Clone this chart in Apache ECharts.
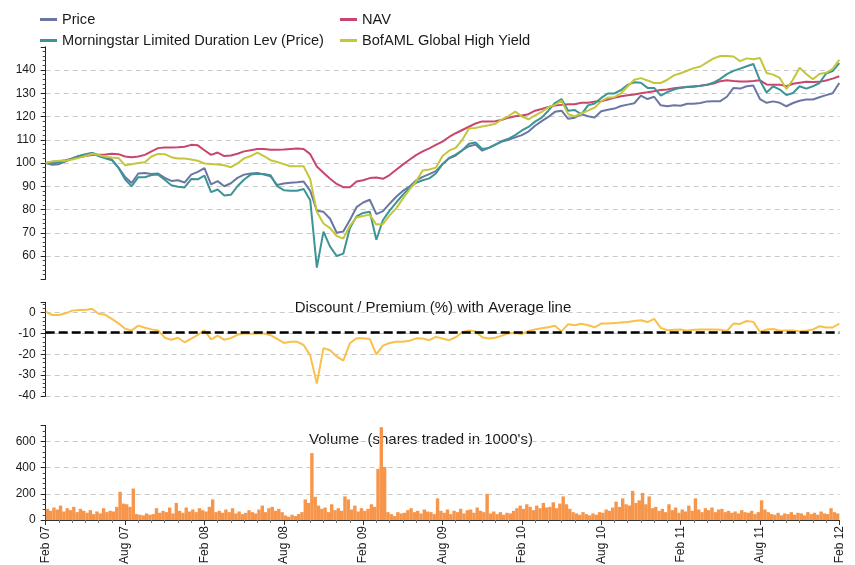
<!DOCTYPE html>
<html>
<head>
<meta charset="utf-8">
<title>Fund performance</title>
<script src="https://cdn.jsdelivr.net/npm/echarts@6/dist/echarts.min.js"></script>
<style>
  html, body { margin: 0; padding: 0; background: #fff; }
  #chart { width: 855px; height: 565px; }
</style>
</head>
<body>
<div id="chart"></div>
<script>
// Semi-monthly observations from Feb 2007 to Feb 2012 (index / 2 = months since Feb 2007), rebased to 100
const price = [
  100, 99.2, 99.5, 100.7, 102, 102.9, 103.5, 104.3, 103.5, 102.5,
  101.5, 98, 94, 91.4, 95.5, 95.7, 95.3, 95.5, 93.6, 92.3,
  92.6, 91.6, 95, 96.2, 97.8, 90.8, 92.2, 90, 91.3, 93.6,
  95, 95.5, 95.7, 95, 94.3, 90.5, 91.2, 91.5, 91.7,
  92, 88, 79.5, 79, 76, 70, 70.5, 75.5, 81, 83,
  84.2, 78, 79.3, 82.5, 85.5, 88, 89.8, 92.5, 94, 95.2,
  96.5, 99.5, 102, 103.2, 105.5, 107.2, 107.9, 105.3, 106.5, 107.9,
  109.2, 110, 111, 112, 113.5, 116, 118, 119.8, 122, 122.5,
  119, 119.5,
  121, 120.1, 119.6, 122.3, 122.9, 123.4, 124.5, 125.1, 125.7, 129,
  127.5, 128.5, 124.8, 124.4, 124.8, 124.6, 125.5, 125.5, 125.8, 126.5,
  126.6, 126.6, 128.5, 132.3, 132, 133, 133.3, 127.5, 125.9, 126.5,
  125.9, 124.4, 125.8, 126.8, 127.3, 127.3, 128.3, 129.2, 130, 134.4
];
const nav = [
  100, 100.5, 100.8, 101.2, 101.8, 102.5, 103, 103.4, 103.5, 103.7,
  104, 103.8, 102.8, 102.5, 102.8, 103.5, 105, 106.4, 106.7, 106.7,
  106.8, 107, 107.8, 107.6, 105.5, 103.5, 104.5, 103, 103.2, 104,
  105, 105.5, 106, 106, 105.7, 105.7, 105.8, 106, 106.2,
  106, 103.8, 98.5, 95.8, 93.2, 91, 89.6, 89.6, 92, 92.6,
  93.5, 93.8, 93.2, 94.8, 97.1, 99.3, 101.4, 103.4, 105, 106.3,
  107.8, 109.2, 111.2, 112.8, 114.2, 115.6, 117, 117.9, 117.9, 118,
  118.6, 119.5, 120.1, 120.4, 121, 122.5, 123.2, 124.1, 124.7, 125,
  125.3, 125.3,
  125.9, 125.9, 126.4, 126.6, 127.3, 128, 128.7, 129.1, 129.5, 130,
  130.4, 130.9, 131.4, 131.6, 132.2, 132.5, 132.7, 132.8, 133.2, 133.7,
  134.2, 135.2, 135.6, 135.3, 135.1, 135.1, 135.3, 135.6, 133.8, 133.7,
  133.7, 133, 134.1, 134.5, 134.9, 134.8, 134.9, 135.5, 136.3, 137.3
];
const morningstar = [
  100, 99.8, 100.3, 100.7, 102, 103, 103.8, 104.3, 103, 102,
  101.2, 98, 93, 90, 93.9, 93.9, 94.8, 95, 92.8, 90.4,
  89.8, 89.5, 93.1, 93, 94.6, 87.5, 88.6, 86, 86.3, 90,
  92.9, 95, 95.4, 95.3, 94.7, 90, 88.3, 88.1, 88.1,
  88.8, 84, 55, 70.5, 64, 60, 61, 72, 77, 78.5,
  79, 67, 75.5, 79.5, 83, 86.3, 89.3, 91.5, 92.6, 93.4,
  95.5, 99.5, 102.2, 103.6, 105.5, 108.3, 108.8, 106, 106.5, 107.9,
  109.5, 110.5, 112, 114, 115.5, 117.8, 119.5, 122.5, 125.8, 127.5,
  122.5, 122.8,
  120.9, 124.8, 125.6, 128, 129.9, 129.9, 131.4, 133.6, 134.7, 134.5,
  132.3, 132.3, 129, 130.5, 131.6, 132.3, 132.8, 133, 133.2, 133.6,
  134.6, 136.2, 138.2, 139.6, 140.6, 141.6, 142.6, 135.5, 130.3, 133,
  131.6, 129.2, 130.1, 133, 132, 133, 134.4, 138.5, 139.5, 143
];
const bofaml = [
  100, 100.7, 101, 101, 101.5, 102.2, 103, 103.9, 103.5, 102.7,
  102.4, 102.2, 99, 99.5, 100, 100.3, 102.8, 103.9, 103.8, 102.5,
  101.9, 101.9, 101.5, 101, 99.8, 99.6, 99.4, 99, 98.2, 99.8,
  102, 103, 104.5, 103, 101.2, 100.4, 99.5, 98.6, 98.6,
  98.6, 93, 79, 74, 72, 68.6, 67.5, 73, 76.6, 77.2,
  77.8, 73.5, 73.8, 77.5, 80.5, 84.7, 88.5, 92, 96.8, 97.2,
  98, 103, 105.3, 106.5, 110, 114.8, 115.1, 115.7, 116.2, 116.9,
  118.8, 120.2, 122.1, 120, 118.8, 120.5, 122, 124, 125, 126.8,
  121, 120.1,
  121.3, 122.5, 123.8, 126.6, 128.1, 128.3, 130, 133, 135.8, 136.5,
  135.5, 134.4, 134.4, 135.8, 137.7, 138.6, 139.7, 140.8, 141.5, 143.3,
  145, 146, 146, 145.8, 143.8, 145, 144.6, 145.2, 138.7, 138,
  136.6, 131.8, 135.9, 141, 138.3, 136, 138.3, 138.8, 140.5, 144.4
];
// Discount (-) / premium (+) of price to NAV, %
const discount = [
  0.5, -1.1, -1.1, -0.3, 1, 1.3, 1.3, 1.9, -0.5, -1,
  -3, -5.1, -7.7, -8.5, -6.2, -7.2, -8, -8.5, -12, -13,
  -12, -14.2, -12.5, -10.6, -8.5, -12.8, -11, -13, -12.2, -10.6,
  -9.9, -10.1, -10, -10, -10.8, -12.6, -14.5, -13.9, -13.9, -15.5,
  -20.5, -34, -17, -18, -21, -23, -14.7, -12.3, -12.3, -12.6,
  -20, -15.8, -14.5, -14, -14, -13.5, -12.3, -12.4, -13.2,
  -11.6, -12.4, -13.2, -11.8, -9.4, -8.5, -9, -11.8, -12.4, -12,
  -11, -9.9, -9.7, -10.2, -8.8, -8, -7.5, -7, -6.3, -9,
  -5.5, -6, -5.3, -6, -7, -5.2, -5.2, -5, -4.7, -4.5,
  -4, -3.6, -4.5, -3, -7.3, -8.4, -8.2, -8.1, -8.6, -8.2,
  -8.1, -8.1, -8.1, -8.2, -8.8, -5.2, -5.4, -4, -4.4, -9.2,
  -8.1, -7.8, -8.7, -8.5, -8.5, -9, -8.7, -8.1, -6.5, -7.1,
  -7.1, -5.2
];
const discountAverage = -9.2;
// Shares traded (thousands), four readings per month
const volume = [
  85, 70, 95, 80,   110, 65, 90, 75,   100, 60, 85, 70,   55, 75, 45, 65,
  50, 90, 60, 70,   65, 100, 215, 125, 120, 100, 240, 45, 40, 35, 50, 40,
  45, 90, 55, 70,   60, 95, 50, 130,   70, 55, 95, 65,    80, 60, 90, 75,
  65, 100, 157, 60, 70, 55, 80, 60,    90, 50, 65, 45,    55, 75, 60, 50,
  80, 110, 60, 90,  100, 70, 85, 60,   35, 25, 40, 30,    45, 60, 157, 130,
  510, 177, 110, 85, 95, 60, 120, 75,  90, 70, 180, 157,  80, 110, 65, 90,
  70, 85, 120, 100, 390, 708, 405, 60, 45, 30, 60, 50,    55, 75, 90, 60,
  70, 50, 80, 65,   60, 45, 165, 70,   55, 80, 45, 70,    60, 85, 50, 75,
  80, 55, 95, 70,   60, 200, 50, 65,   45, 60, 40, 55,    50, 70, 90, 110,
  85, 120, 100, 75, 110, 90, 130, 95,  100, 135, 90, 125, 180, 120, 85, 60,
  50, 40, 60, 45,   35, 50, 40, 60,    55, 80, 70, 95,    140, 100, 165, 120,
  110, 222, 130, 150, 207, 120, 180, 90, 100, 70, 85, 60, 120, 75, 95, 55,
  80, 65, 110, 70,  165, 80, 60, 90,   75, 95, 60, 80,    85, 60, 70, 55,
  65, 50, 75, 60,   55, 70, 45, 60,    150, 80, 60, 45,   40, 55, 35, 50,
  45, 60, 40, 55,   50, 35, 60, 45,    55, 40, 65, 50,    45, 90, 60, 50
];
const xTickLabels = ['Feb 07', 'Aug 07', 'Feb 08', 'Aug 08', 'Feb 09', 'Aug 09',
                     'Feb 10', 'Aug 10', 'Feb 11', 'Aug 11', 'Feb 12'];
const seriesNames = ['Price', 'NAV', 'Morningstar Limited Duration Lev (Price)', 'BofAML Global High Yield'];

const FONT = '"Liberation Sans", Arial, sans-serif';
const colors = {
  price: '#6b77a3', nav: '#c8466e', morningstar: '#3d9496', bofaml: '#c4c63c',
  discount: '#f9c04a', volume: '#f7964a'
};

const chart = echarts.init(document.getElementById('chart'));

const semiMonthly = arr => arr.map((v, i) => [i / 2, v]);
const volumePoints = volume.map((v, j) => [j / 4 + 0.125, v]);

const GRID_LEFT = 45.7, GRID_RIGHT = 15.7;

function valueAxis(gridIndex, min, max, interval, hide, showMinLine) {
  return {
    gridIndex, type: 'value', min, max, interval, offset: 3,
    axisLine: { show: true, lineStyle: { color: '#222', width: 1 } },
    axisTick: { show: true, length: 5, lineStyle: { color: '#222' } },
    minorTick: { show: true, splitNumber: 5, length: 3, lineStyle: { color: '#444' } },
    axisLabel: {
      fontFamily: FONT, fontSize: 12, color: '#1a1a1a', margin: 7,
      formatter: v => (hide.indexOf(v) >= 0 ? '' : String(v))
    },
    splitLine: {
      show: true, showMinLine: showMinLine, showMaxLine: false,
      lineStyle: { color: '#c8c8c8', type: [5, 4], width: 1 }
    }
  };
}

function hiddenX(gridIndex) {
  return { gridIndex, type: 'value', min: 0, max: 60, interval: 6, show: false };
}

function line(name, data, color, axis) {
  return {
    name, type: 'line', xAxisIndex: axis, yAxisIndex: axis,
    data: semiMonthly(data), showSymbol: false, symbol: 'none',
    lineStyle: { color, width: 2 }, itemStyle: { color },
    emphasis: { disabled: true }
  };
}

const legendCommon = {
  orient: 'vertical', top: 12, padding: 0, itemWidth: 17, itemHeight: 3, itemGap: 6,
  icon: 'rect', textStyle: { fontFamily: FONT, fontSize: 14.6, color: '#1a1a1a' },
  selectedMode: false
};

chart.setOption({
  animation: false,
  backgroundColor: '#fff',
  legend: [
    Object.assign({ left: 40, data: [seriesNames[0], seriesNames[2]] }, legendCommon),
    Object.assign({ left: 340, data: [seriesNames[1], seriesNames[3]] }, legendCommon)
  ],
  grid: [
    { left: GRID_LEFT, right: GRID_RIGHT, top: 46.75, height: 232.5, outerBoundsMode: 'none' },
    { left: GRID_LEFT, right: GRID_RIGHT, top: 302.3, height: 93.7, outerBoundsMode: 'none' },
    { left: GRID_LEFT, right: GRID_RIGHT, top: 425.6, height: 94.4, outerBoundsMode: 'none' }
  ],
  xAxis: [
    hiddenX(0),
    hiddenX(1),
    {
      gridIndex: 2, type: 'value', min: 0, max: 60, interval: 6,
      axisLine: { show: true, onZero: false, lineStyle: { color: '#333' } },
      axisTick: { show: true, length: 5, lineStyle: { color: '#333' } },
      minorTick: { show: true, splitNumber: 6, length: 3, lineStyle: { color: '#777' } },
      axisLabel: {
        rotate: 90, fontFamily: FONT, fontSize: 12, color: '#1a1a1a', margin: 6,
        showMinLabel: true, showMaxLabel: true,
        formatter: v => xTickLabels[Math.round(v / 6)]
      },
      splitLine: { show: false }
    }
  ],
  yAxis: [
    valueAxis(0, 50, 150, 10, [50, 150], false),
    valueAxis(1, -40, 5, 10, [5], true),
    valueAxis(2, 0, 720, 200, [720], false)
  ],
  graphic: [
    {
      type: 'text', x: 433, y: 308,
      style: {
        text: 'Discount / Premium (%) with Average line', fill: '#1a1a1a',
        font: '15px ' + FONT, textAlign: 'center', textVerticalAlign: 'middle'
      }
    },
    {
      type: 'text', x: 421, y: 440,
      style: {
        text: "Volume  (shares traded in 1000's)", fill: '#1a1a1a',
        font: '15px ' + FONT, textAlign: 'center', textVerticalAlign: 'middle'
      }
    }
  ],
  series: [
    line(seriesNames[0], price, colors.price, 0),
    line(seriesNames[1], nav, colors.nav, 0),
    line(seriesNames[2], morningstar, colors.morningstar, 0),
    line(seriesNames[3], bofaml, colors.bofaml, 0),
    Object.assign(line('Discount / Premium', discount, colors.discount, 1), {
      markLine: {
        silent: true, symbol: 'none', label: { show: false },
        lineStyle: { color: '#000', type: [9, 4], width: 2.5 },
        data: [{ yAxis: discountAverage }]
      }
    }),
    {
      name: 'Volume', type: 'bar', xAxisIndex: 2, yAxisIndex: 2,
      data: volumePoints, barWidth: 3.4,
      itemStyle: { color: colors.volume }, emphasis: { disabled: true }
    }
  ]
});
</script>
</body>
</html>
